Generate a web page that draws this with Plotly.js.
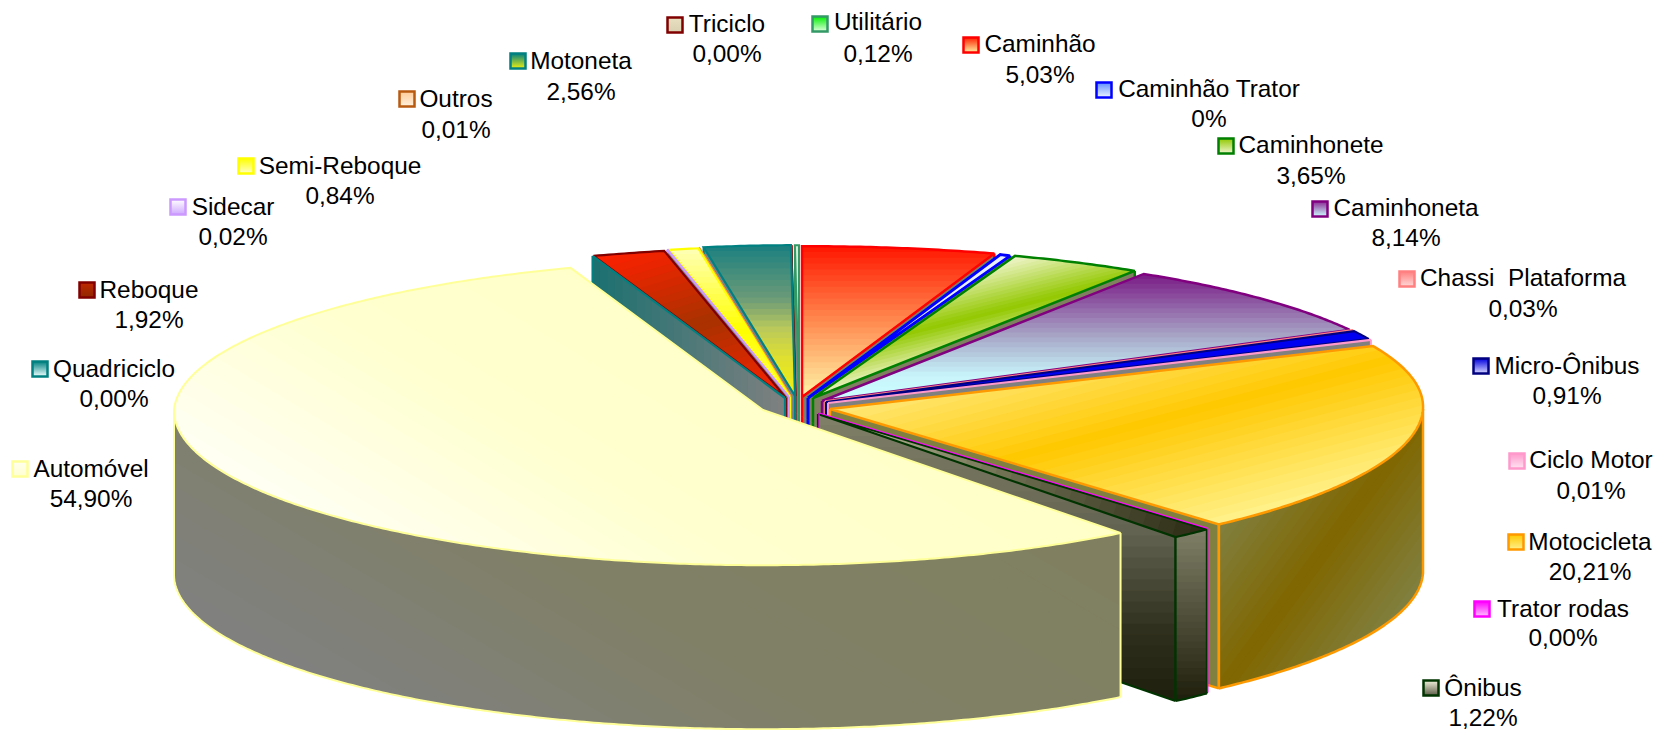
<!DOCTYPE html>
<html><head><meta charset="utf-8">
<script src="https://cdn.plot.ly/plotly-3.0.1.min.js"></script>
<style>html,body{margin:0;padding:0;background:#fff}</style></head>
<body><div id="chart" style="width:1660px;height:730px"></div>
<script>
// ---------- data (clockwise from 12 o'clock) ----------
const categories = ["Caminhão","Caminhão Trator","Caminhonete","Caminhoneta","Chassi  Plataforma","Micro-Ônibus","Ciclo Motor","Motocicleta","Trator rodas","Ônibus","Automóvel","Quadriciclo","Reboque","Sidecar","Semi-Reboque","Outros","Motoneta","Triciclo","Utilitário"];
const shares = [5.03,0.43,3.65,8.14,0.03,0.91,0.01,20.21,0,1.22,54.90,0,1.92,0.02,0.84,0.01,2.56,0,0.12];
const valueLabels = ["5,03%","0%","3,65%","8,14%","0,03%","0,91%","0,01%","20,21%","0,00%","1,22%","54,90%","0,00%","1,92%","0,02%","0,84%","0,01%","2,56%","0,00%","0,12%"];

// ---------- exploded apex of every slice ----------
const apexX = [802,808,813,822,825,826,828,830,819,818,763,785,786,789,790,791,795,796,799];
const apexY = [397,398,398,401,401,402,403,409,413,414,410,398,398,397,397,396,396,396,396];

// ---------- label placement ----------
const nameX = [1040,1209,1311,1406,1523,1567,1591,1590,1563,1483,91,114,149,233,340,456,581,727,878];
const nameY = [45.5,90.5,146.5,209.5,279.5,367.5,461.5,543.5,610.5,689.5,470.5,370.5,291.5,208.5,167.5,100.5,62.5,25.5,23.5];
const valueY = [76.5,120.5,177.5,239.5,310.5,397.5,492.5,573.5,639.5,719.5,500.5,400.5,321.5,238.5,197.5,131.5,93.5,55.5,55.5];
const keyX = [971,1104,1226,1320,1407,1481,1517,1516,1482,1431,20,40,87,178,246,407,518,675,820];
const keyY = [45,90,146,209,279,366,461,542,609,688,469,369,290,207,166,99,61,25,24];

// ---------- style tables ----------
const sliceLine = ["#FF0000","#0000FF","#008000","#800080","#FF8080","#000080","#FF99CC","#FF9900","#FF00FF","#003300","#FFFF99","#008080","#800000","#CC99FF","#FFFF00","#FF9933","#008080","#800000","#339966"];
const lineWidth = [2.5,3,2.5,2.5,1.5,2,2,2.5,1.2,2.2,2,2.2,2.2,2,2.2,1,2.2,1,2];
const keyFill = ["#FF2000","#5F8FFF","#90C800","#8A2A95","#FF8080","#0000E0","#FF99CC","#FFC800","#FF00FF","#F2F2DC","#FFFFF0","#008080","#C02800","#FFFFFF","#FFFF00","#FFCC99","#008080","#E8E0C0","#00F000"];
const keyEnd  = ["#FFF0A0","#EEF4FF","#F0F6D0","#CCFFFF","#FFD8D8","#D8D8FF","#FFE4F2","#FFF08C","#FFC0FF","#5C5C46","#FFFFD0","#F0FFFF","#902800","#CFA8FF","#FFFFC8","#FFF0DC","#F0F010","#D8D0B0","#E0FFE0"];
const keyBorder = ["#FF0000","#0000FF","#008000","#800080","#FF8080","#000080","#FF99CC","#FF9900","#FF00FF","#003300","#FFFF99","#008080","#800000","#CC99FF","#FFFF00","#B85A10","#008080","#800000","#339966"];

const topGrad = {
  0:[[0,1],[[0,"#FF1500"],[.5,"#FF8A50"],[1,"#FFF5A8"]]],
  1:[[0,1],[[0,"#E8F0FF"],[1,"#E8F0FF"]]],
  2:[[.25,1],[[0,"#F2F6D0"],[.55,"#92C800"],[1,"#F2F6D0"]]],
  3:[[0,1],[[0,"#7A1A85"],[.5,"#A8A8C8"],[.8,"#C8F4FA"],[1,"#CCFFFF"]]],
  4:[[0,1],[[0,"#FF8080"],[1,"#FF8080"]]],
  5:[[0,1],[[0,"#0000F0"],[1,"#0000F0"]]],
  6:[[0,1],[[0,"#FFB8DC"],[1,"#FFB8DC"]]],
  7:[[.26,1],[[0,"#FFE878"],[.45,"#FFC800"],[1,"#FFF28C"]]],
  9:[[.95,.3],[[0,"#C8C8A8"],[.5,"#6C6C50"],[1,"#2A2A14"]]],
  10:[[-.6,1],[[0,"#FFFFC8"],[.55,"#FFFFD0"],[1,"#FFFFF4"]]],
  12:[[.3,1],[[0,"#FF2000"],[.5,"#A83200"],[1,"#FF2000"]]],
  13:[[0,1],[[0,"#EAD8FF"],[1,"#EAD8FF"]]],
  14:[[0,1],[[0,"#FFFFB8"],[.55,"#FFFF00"],[1,"#FFFF60"]]],
  15:[[0,1],[[0,"#FFCC99"],[1,"#FFCC99"]]],
  16:[[0,1],[[0,"#1A8080"],[.35,"#6A9A78"],[.55,"#B8C85C"],[.75,"#E0E030"],[1,"#F0F010"]]],
  18:[[0,1],[[0,"#D0F0D8"],[1,"#D0F0D8"]]]
};
const FLAT_WALL = [[0,1],[[0,"#808060"],[1,"#808060"]]];
const GRAY_WALL = [[0,1],[[0,"#808080"],[1,"#808080"]]];
const outerGrad = {
  7:[[1.36,1],[[0,"#808040"],[.5,"#806600"],[1,"#808040"]]],
  9:[[0,1],[[0,"#808068"],[1,"#1E1E0C"]]],
  10:[[-.5,.85],[[0,"#808060"],[.6,"#808068"],[1,"#808080"]]]
};
const cutGrad = {
  6:GRAY_WALL,
  7:[[0,1],[[0,"#808040"],[1,"#808040"]]],
  9:[[0,1],[[0,"#808068"],[.4,"#646452"],[.75,"#30301E"],[1,"#1E1E0C"]]],
  11:[[1,0],[[0,"#1A7070"],[1,"#808080"]]]
};

// ---------- projection of the tilted pie ----------
const WALL = 164, BANDS = 26;
const aKnots = [[0,620],[18,620],[19.7,600],[33,594],[62,597],[90,593],[138,584],[143,590],[180,592],[270,589],[340,572],[347,551],[350,545],[360,545]];
function radX(t){
  for(let i=1;i<aKnots.length;i++){
    if(t<=aKnots[i][0]){
      const [t0,a0]=aKnots[i-1],[t1,a1]=aKnots[i];
      return a0+(a1-a0)*(t-t0)/(t1-t0);
    }
  }
  return 545;
}
function project(i,t){
  const r=t*Math.PI/180;
  const b=153-2.2*Math.cos(r);
  return [apexX[i]+radX(t)*Math.sin(r), apexY[i]-b*Math.cos(r)];
}
function arc(i,t1,t2){
  const out=[],n=Math.max(1,Math.ceil(Math.abs(t2-t1)/0.5));
  for(let k=0;k<=n;k++) out.push(project(i,t1+(t2-t1)*k/n));
  return out;
}
const down=p=>[p[0],p[1]+WALL];

// ---------- gradient fill built from clipped colour bands ----------
const hex=c=>[1,3,5].map(k=>parseInt(c.substr(k,2),16));
function mix(stops,u){
  for(let i=1;i<stops.length;i++){
    if(u<=stops[i][0]){
      const f=(u-stops[i-1][0])/(stops[i][0]-stops[i-1][0]);
      const a=hex(stops[i-1][1]),b=hex(stops[i][1]);
      return "rgb("+a.map((v,k)=>Math.round(v+(b[k]-v)*f)).join(",")+")";
    }
  }
  return stops[stops.length-1][1];
}
function clip(poly,d,lim,keepBelow){
  const out=[],inside=p=>{const s=p[0]*d[0]+p[1]*d[1];return keepBelow?s<=lim:s>=lim;};
  for(let i=0;i<poly.length;i++){
    const p=poly[i],q=poly[(i+1)%poly.length],ip=inside(p),iq=inside(q);
    if(ip) out.push(p);
    if(ip!==iq){
      const sp=p[0]*d[0]+p[1]*d[1],sq=q[0]*d[0]+q[1]*d[1],f=(lim-sp)/(sq-sp);
      out.push([p[0]+(q[0]-p[0])*f,p[1]+(q[1]-p[1])*f]);
    }
  }
  return out;
}
const traces=[];
function addFill(poly,color){
  if(poly.length<3) return;
  traces.push({type:"scatter",mode:"none",fill:"toself",fillcolor:color,hoverinfo:"skip",showlegend:false,
    x:poly.map(p=>p[0]).concat(poly[0][0]),y:poly.map(p=>p[1]).concat(poly[0][1])});
}
function addStroke(pts,color,width){
  traces.push({type:"scatter",mode:"lines",line:{color:color,width:width,simplify:false},hoverinfo:"skip",showlegend:false,
    x:pts.map(p=>p[0]),y:pts.map(p=>p[1])});
}
function surface(poly,grad){
  const dir=grad[0],stops=grad[1],len=Math.hypot(dir[0],dir[1]),d=[dir[0]/len,dir[1]/len];
  const flat=stops.every(s=>s[1]===stops[0][1]);
  if(flat){addFill(poly,stops[0][1]);return;}
  const ss=poly.map(p=>p[0]*d[0]+p[1]*d[1]),lo=Math.min(...ss),hi=Math.max(...ss);
  for(let k=0;k<BANDS;k++){
    const a=lo+(hi-lo)*k/BANDS,b=lo+(hi-lo)*(k+1)/BANDS+1;
    const part=clip(clip(poly,d,a,false),d,b,true);
    addFill(part,mix(stops,(k+.5)/BANDS));
  }
}

// ---------- slice angles from the values ----------
const total=shares.reduce((s,v)=>s+v,0);
const startAngle=[],endAngle=[];
shares.reduce((acc,v,i)=>{startAngle[i]=acc/total*360;endAngle[i]=(acc+v)/total*360;return acc+v;},0);

function drawSlice(i){
  const t1=startAngle[i],t2=endAngle[i],col=sliceLine[i],w=lineWidth[i];
  const A=[apexX[i],apexY[i]];
  const zero=shares[i]===0;
  const cutAngle=t1>=180?t1:t2;
  // radial cut face
  const tip=project(i,cutAngle);
  if(!zero||cutGrad[i]){
    const g=cutGrad[i]||(t1>=180?GRAY_WALL:FLAT_WALL);
    surface([A,tip,down(tip),down(A)],g);
  }
  addStroke([A,down(A)],col,w);
  addStroke([tip,down(tip)],col,w);
  if(!zero||cutGrad[i]) addStroke([down(A),down(tip)],col,w);
  // outer wall
  const lo=Math.max(t1,90),hi=Math.min(t2,270);
  if(hi>lo){
    const top=arc(i,lo,hi),bot=top.map(down);
    surface(top.concat(bot.slice().reverse()),outerGrad[i]||FLAT_WALL);
    addStroke(bot,col,w);
    addStroke([top[0],bot[0]],col,w);
    addStroke([top[top.length-1],bot[bot.length-1]],col,w);
  }
  // top face
  const rim=arc(i,t1,t2);
  if(!zero) surface([A].concat(rim),topGrad[i]);
  addStroke([A].concat(rim,[A]),col,w);
}
// painter's order: back slices first, the big front slice last
[18,17,16,15,14,13,12,11,0,1,2,3,4,5,6,7,9,8,10].forEach(drawSlice);

// ---------- legend keys and labels ----------
traces.push({type:"scatter",mode:"markers",x:keyX,y:keyY,hoverinfo:"skip",showlegend:false,
  marker:{symbol:"square",size:15,color:keyFill,gradient:{type:"vertical",color:keyEnd},line:{color:keyBorder,width:2.5}}});
const labelFont={family:"Liberation Sans, Arial, sans-serif",size:24.4,color:"#000"};
traces.push({type:"scatter",mode:"text",x:nameX,y:nameY,text:categories,textposition:"middle center",textfont:labelFont,hoverinfo:"skip",showlegend:false,cliponaxis:false});
traces.push({type:"scatter",mode:"text",x:nameX,y:valueY,text:valueLabels,textposition:"middle center",textfont:labelFont,hoverinfo:"skip",showlegend:false,cliponaxis:false});

Plotly.newPlot("chart",traces,{
  width:1660,height:730,margin:{l:0,r:0,t:0,b:0},
  paper_bgcolor:"#fff",plot_bgcolor:"#fff",showlegend:false,
  xaxis:{range:[0,1660],visible:false,fixedrange:true},
  yaxis:{range:[730,0],visible:false,fixedrange:true}
},{displayModeBar:false,staticPlot:true});
</script></body></html>
